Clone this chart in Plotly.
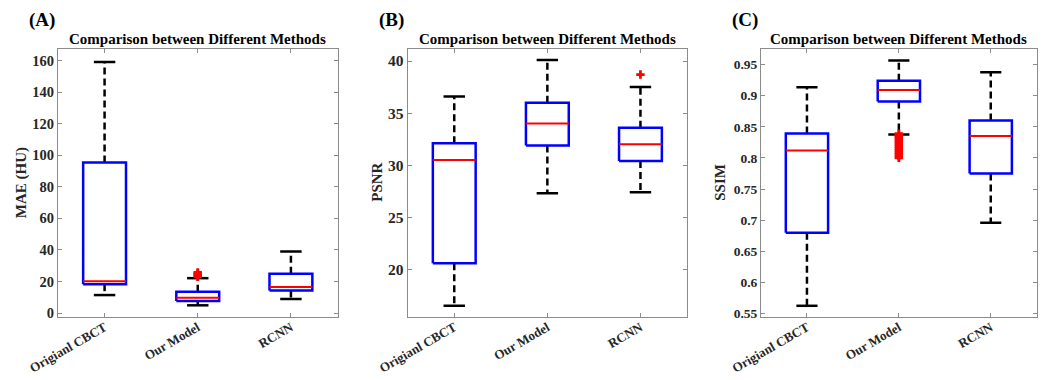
import plotly.graph_objects as go

categories = ["Origianl CBCT", "Our Model", "RCNN"]

mae_lower = [11.4, 4.9, 8.9]
mae_q1 = [18.3, 7.6, 14.3]
mae_median = [20.2, 9.7, 16.5]
mae_q3 = [95.4, 13.5, 24.9]
mae_upper = [159.0, 22.1, 39.0]
mae_outliers = [[], [23.0, 23.7, 24.4, 25.1, 25.8], []]

psnr_lower = [16.5, 27.3, 27.4]
psnr_q1 = [20.6, 31.9, 30.4]
psnr_median = [30.5, 34.0, 32.0]
psnr_q3 = [32.1, 36.0, 33.6]
psnr_upper = [36.6, 40.1, 37.5]
psnr_outliers = [[], [], [38.7]]

ssim_lower = [0.5625, 0.8375, 0.696]
ssim_q1 = [0.680, 0.8905, 0.775]
ssim_median = [0.812, 0.909, 0.835]
ssim_q3 = [0.839, 0.924, 0.860]
ssim_upper = [0.9135, 0.9565, 0.9375]
ssim_outliers = [[], [0.800, 0.803, 0.806, 0.809, 0.812, 0.815, 0.818, 0.821,
                      0.824, 0.827, 0.830, 0.833, 0.836, 0.839], []]

panels = [
    dict(label="(A)", ytitle="MAE (HU)", lower=mae_lower, q1=mae_q1, med=mae_median,
         q3=mae_q3, upper=mae_upper, out=mae_outliers,
         yrange=[-2.5, 167.6], ytick=dict(tick0=0, dtick=20), tfs=14.5,
         xdom=[58 / 1045, 337.5 / 1045], ytx=21.5),
    dict(label="(B)", ytitle="PSNR", lower=psnr_lower, q1=psnr_q1, med=psnr_median,
         q3=psnr_q3, upper=psnr_upper, out=psnr_outliers,
         yrange=[15.43, 41.2], ytick=dict(tick0=0, dtick=5), tfs=15.5,
         xdom=[407.7 / 1045, 687 / 1045], ytx=377),
    dict(label="(C)", ytitle="SSIM", lower=ssim_lower, q1=ssim_q1, med=ssim_median,
         q3=ssim_q3, upper=ssim_upper, out=ssim_outliers,
         yrange=[0.5445, 0.9757], ytick=dict(tick0=0, dtick=0.05), tfs=13.5,
         xdom=[761 / 1045, 1036.7 / 1045], ytx=720),
]

W, H = 1045, 380
ydom = [1 - 317 / H, 1 - 48.5 / H]
hw = 0.23   # half box width
cw = 0.115  # half cap width

FONT = "Liberation Serif"
TXT = "#262626"
AX = "#8c8c8c"

fig = go.Figure()
annotations = []

for p_i, p in enumerate(panels):
    n = "" if p_i == 0 else str(p_i + 1)
    xa, ya = "x" + n, "y" + n
    for i in range(len(categories)):
        c = i + 1
        for a, b in [(p["q3"][i], p["upper"][i]), (p["q1"][i], p["lower"][i])]:
            fig.add_trace(go.Scatter(x=[c, c], y=[a, b], mode="lines",
                                     line=dict(color="black", width=2.5, dash="7px,4px"),
                                     xaxis=xa, yaxis=ya, showlegend=False, hoverinfo="skip"))
        for v in [p["upper"][i], p["lower"][i]]:
            fig.add_trace(go.Scatter(x=[c - cw, c + cw], y=[v, v], mode="lines",
                                     line=dict(color="black", width=2.5),
                                     xaxis=xa, yaxis=ya, showlegend=False, hoverinfo="skip"))
        fig.add_trace(go.Scatter(x=[c - hw, c + hw, c + hw, c - hw, c - hw],
                                 y=[p["q1"][i], p["q1"][i], p["q3"][i], p["q3"][i], p["q1"][i]],
                                 mode="lines", line=dict(color="#0000ff", width=2.5),
                                 fill="toself", fillcolor="white",
                                 xaxis=xa, yaxis=ya, showlegend=False, hoverinfo="skip"))
        fig.add_trace(go.Scatter(x=[c - hw, c + hw], y=[p["med"][i], p["med"][i]],
                                 mode="lines", line=dict(color="#ff0000", width=2),
                                 xaxis=xa, yaxis=ya, showlegend=False, hoverinfo="skip"))
        if p["out"][i]:
            fig.add_trace(go.Scatter(x=[c] * len(p["out"][i]), y=p["out"][i], mode="markers",
                                     marker=dict(symbol="cross", color="#ff0000", size=7,
                                                 line=dict(width=0)),
                                     xaxis=xa, yaxis=ya, showlegend=False, hoverinfo="skip"))

    xkey = "xaxis" + n
    ykey = "yaxis" + n
    fig.update_layout(**{
        xkey: dict(domain=p["xdom"], anchor=ya, range=[0.5, 3.5], automargin=False,
                   tickmode="array", tickvals=[1, 2, 3], ticktext=categories,
                   tickangle=-30, ticks="inside", ticklen=4, tickcolor=AX,
                   ticklabelstandoff=-3,
                   showline=True, linecolor=AX, linewidth=1, mirror="ticks",
                   showgrid=False, zeroline=False,
                   tickfont=dict(family=FONT, size=13, color=TXT, weight="bold")),
        ykey: dict(domain=ydom, anchor=xa, range=p["yrange"], automargin=False,
                   tickmode="linear", **p["ytick"],
                   ticks="inside", ticklen=4, tickcolor=AX,
                   showline=True, linecolor=AX, linewidth=1, mirror="ticks",
                   showgrid=False, zeroline=False,
                   tickfont=dict(family=FONT, size=p["tfs"], color=TXT, weight="bold")),
    })
    xc = (p["xdom"][0] + p["xdom"][1]) / 2
    annotations.append(dict(text="<b>Comparison between Different Methods</b>",
                            x=xc, y=ydom[1], xref="paper", yref="paper",
                            xanchor="center", yanchor="bottom", yshift=-1, showarrow=False,
                            font=dict(family=FONT, size=15, color="black")))
    annotations.append(dict(text="<b>" + p["ytitle"] + "</b>",
                            x=p["ytx"] / W, y=(ydom[0] + ydom[1]) / 2,
                            xref="paper", yref="paper", xanchor="center", yanchor="middle",
                            textangle=-90, showarrow=False,
                            font=dict(family=FONT, size=15, color=TXT)))
    annotations.append(dict(text="<b>" + p["label"] + "</b>",
                            x=(p["xdom"][0] * W - 31) / W, y=1 - 20 / H,
                            xref="paper", yref="paper", xanchor="left", yanchor="middle",
                            showarrow=False,
                            font=dict(family=FONT, size=19, color="black")))

fig.update_layout(width=W, height=H, margin=dict(l=0, r=0, t=0, b=0, pad=0, autoexpand=False),
                  paper_bgcolor="white", plot_bgcolor="white",
                  annotations=annotations, showlegend=False)

fig.write_html("out.html")
